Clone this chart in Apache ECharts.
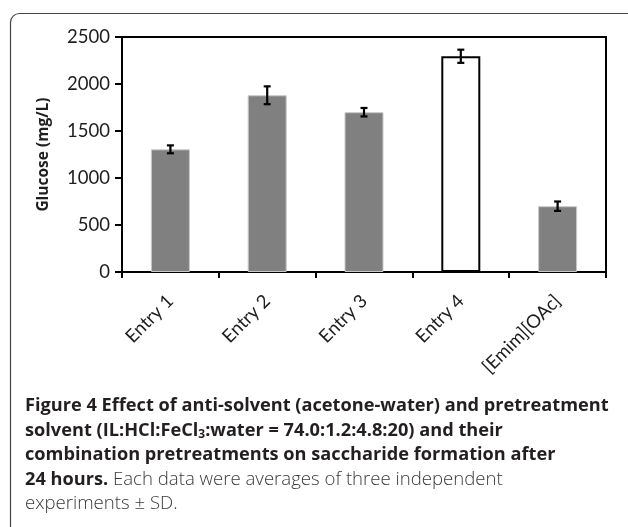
<!DOCTYPE html>
<html>
<head>
<meta charset="utf-8">
<script src="https://cdn.jsdelivr.net/npm/echarts@6/dist/echarts.min.js"></script>
<style>
html,body{margin:0;padding:0;background:#fff;}
#chart{width:628px;height:527px;}
</style>
</head>
<body>
<div id="chart"></div>
<script>
// ---- data ----
const categories = ['Entry 1', 'Entry 2', 'Entry 3', 'Entry 4', '[Emim][OAc]'];
const glucose = [1305, 1880, 1700, 2295, 700];
const glucoseSD = [42, 95, 45, 70, 50];
const yMin = 0, yMax = 2500, yStep = 500;
const yAxisTitle = 'Glucose (mg/L)';
const highlightIndex = 3; // open (white) bar

const captionLines = [
  '{b|Figure 4 Effect of anti-solvent (acetone-water) and pretreatment}',
  '{b|solvent (IL:HCl:FeCl}{sub|3}{b|:water = 74.0:1.2:4.8:20) and their}',
  '{b|combination pretreatments on saccharide formation after}',
  '{b|24 hours.}{r| Each data were averages of three independent}',
  '{r|experiments ± SD.}'
];

const chart = echarts.init(document.getElementById('chart'), null, {renderer: 'canvas'});

const barData = glucose.map((v, i) => {
  if (i === highlightIndex) {
    return {value: v, itemStyle: {color: '#ffffff', borderColor: '#000000', borderWidth: 2}};
  }
  return {value: v};
});
const errData = glucose.map((v, i) => [i, v - glucoseSD[i], v + glucoseSD[i]]);

const option = {
  backgroundColor: '#ffffff',
  animation: false,
  grid: {
    left: 122, right: 22, top: 37, bottom: 255,
    show: true, borderColor: '#000', borderWidth: 2,
    outerBoundsMode: 'none'
  },
  xAxis: {
    type: 'category',
    data: categories,
    axisLine: {lineStyle: {color: '#000', width: 2}},
    axisTick: {show: true, alignWithLabel: false, length: 6, lineStyle: {color: '#000', width: 2}},
    axisLabel: {rotate: 45, margin: 26, fontFamily: 'Lato', fontSize: 18.5, color: '#1e1e1e', interval: 0},
    splitLine: {show: false}
  },
  yAxis: {
    type: 'value',
    min: yMin, max: yMax, interval: yStep,
    name: yAxisTitle,
    nameLocation: 'middle',
    nameRotate: 90,
    nameGap: 70,
    nameTextStyle: {fontFamily: 'Open Sans', fontWeight: 'bold', fontSize: 15.5, color: '#1e1e1e'},
    axisLine: {show: true, lineStyle: {color: '#000', width: 2}},
    axisTick: {show: true, length: 7, lineStyle: {color: '#000', width: 2}},
    axisLabel: {margin: 12, fontFamily: 'Lato', fontSize: 18.5, color: '#1e1e1e', formatter: (v) => String(v)},
    splitLine: {show: false}
  },
  series: [
    {
      type: 'bar',
      data: barData,
      barWidth: 39,
      itemStyle: {color: '#808080', borderColor: '#c8c8c8', borderWidth: 1},
      z: 2
    },
    {
      type: 'custom',
      data: errData,
      z: 5,
      renderItem: function (params, api) {
        const x = api.value(0);
        const lo = api.coord([x, api.value(1)]);
        const hi = api.coord([x, api.value(2)]);
        const hw = 3.5;
        const st = {stroke: '#000', lineWidth: 2.2};
        return {
          type: 'group',
          children: [
            {type: 'line', shape: {x1: lo[0], y1: lo[1], x2: hi[0], y2: hi[1]}, style: st},
            {type: 'line', shape: {x1: hi[0] - hw, y1: hi[1], x2: hi[0] + hw, y2: hi[1]}, style: st},
            {type: 'line', shape: {x1: lo[0] - hw, y1: lo[1], x2: lo[0] + hw, y2: lo[1]}, style: st}
          ]
        };
      }
    }
  ],
  graphic: [
    {
      type: 'rect', silent: true,
      shape: {x: 10.5, y: 13.5, width: 700, height: 700, r: 9},
      style: {fill: 'none', stroke: '#444', lineWidth: 1.2}
    },
    {
      type: 'text', silent: true,
      style: {
        x: 25, y: 394,
        text: captionLines.join('\n'),
        fontFamily: 'Open Sans', fontSize: 18, fontWeight: 'bold', lineHeight: 24.4,
        fill: '#231f20',
        rich: {
          b: {fontFamily: 'Open Sans', fontSize: 18.2, fontWeight: 'bold', lineHeight: 24.4, fill: '#231f20'},
          r: {fontFamily: 'Open Sans', fontSize: 18.6, fontWeight: 300, lineHeight: 24.4, fill: '#3a3a3a'},
          sub: {fontFamily: 'Open Sans', fontSize: 12, fontWeight: 'bold', lineHeight: 24.4, verticalAlign: 'bottom', fill: '#231f20', padding: [0, 0, 2, 0]}
        }
      }
    }
  ]
};
chart.setOption(option);
</script>
</body>
</html>
